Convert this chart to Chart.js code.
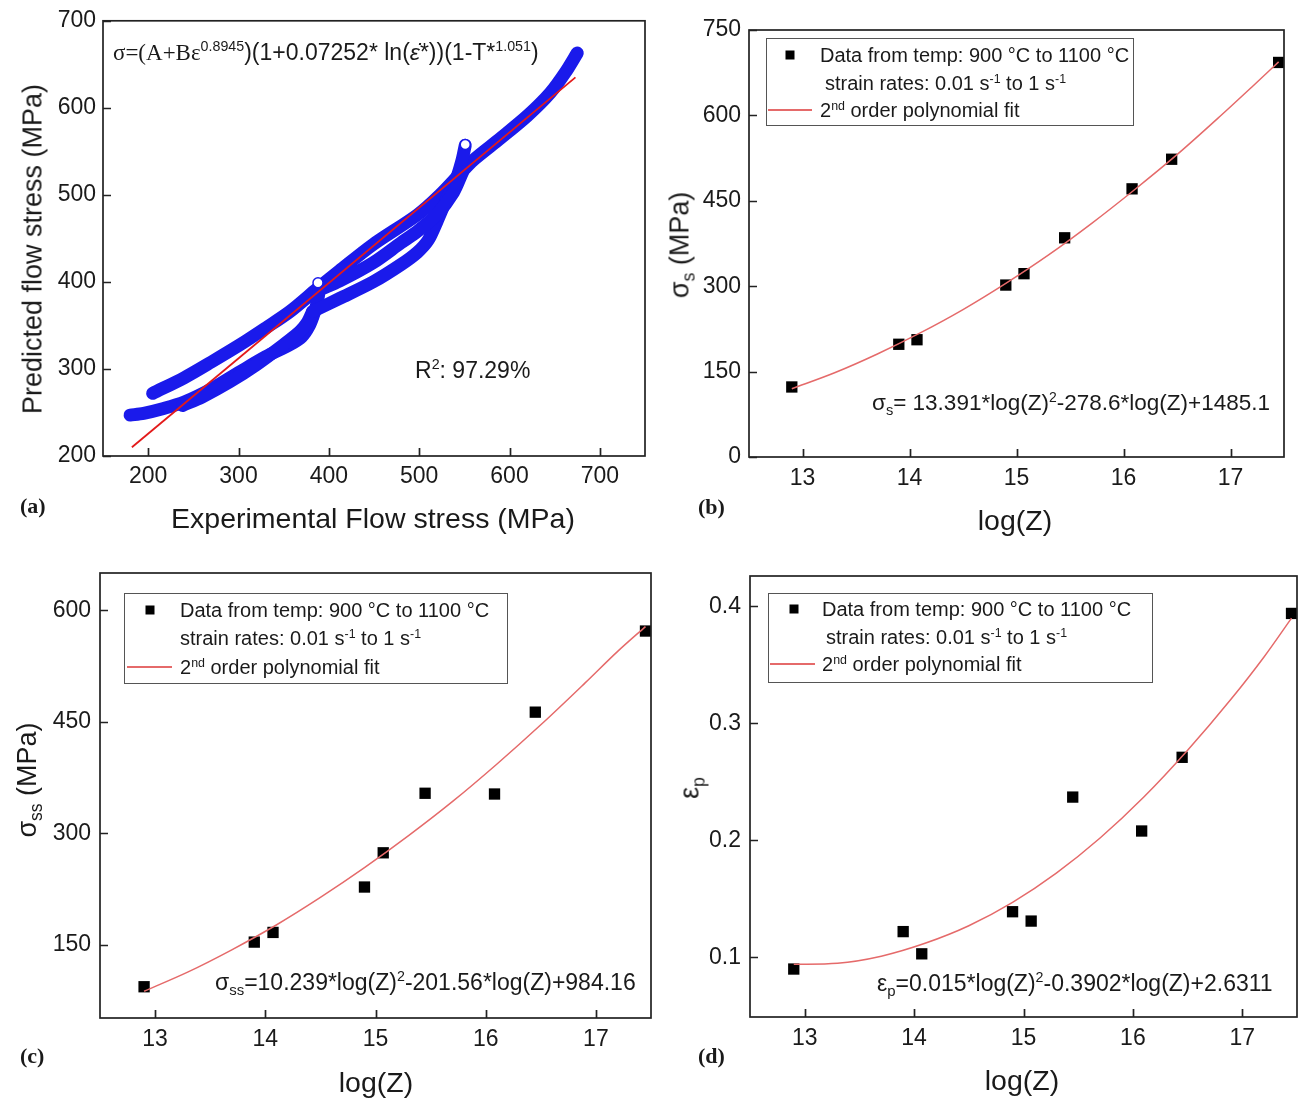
<!DOCTYPE html>
<html><head><meta charset="utf-8">
<script src="https://cdn.jsdelivr.net/npm/chart.js@4.4.1/dist/chart.umd.min.js"></script>
<style>
body{margin:0;background:#fff;width:1298px;height:1101px;position:relative;overflow:hidden;font-family:'Liberation Sans',Arial,sans-serif;color:#1a1a1a}
.cw{position:absolute}
.t{position:absolute;white-space:nowrap;line-height:1}
.serif{font-family:'Liberation Serif','Times New Roman',serif}
.lab{font-family:'Liberation Serif','Times New Roman',serif;font-weight:bold;font-size:22px}
sup{font-size:0.62em;vertical-align:0;position:relative;top:-0.6em}
sub{font-size:0.65em;vertical-align:0;position:relative;top:0.35em}
.box{position:absolute;border:1.5px solid #555;box-sizing:border-box}
.mk{position:absolute;width:9px;height:9px;background:#000;transform:translate(-50%,-50%)}
.rl{position:absolute;height:1.6px;background:#e56a6a}
</style></head><body>
<script>
// ---------- DATA ----------
// Panel (a): predicted vs experimental flow stress bands
const aTicks = [200, 300, 400, 500, 600, 700];
const bandUpper = [[205,272],[240,290],[270,308],[302,328],[330,347],[357,366],[387,392],[412,413],[449,443],[498,477],[523,500],[545,524],[560,540],[590,565],[620,591],[645,617],[662,641],[675,663]];
const bandLowerLeft = [[180,247],[195,249],[215,254],[240,262],[270,277],[302,297],[330,314],[357,328],[370,337],[378,349],[384,365],[388,381],[390,396]];
const bandLowerMid = [[238,258],[260,268],[290,285],[320,305],[350,328],[368,343],[376,353],[382,366]];
const bandLowerRight = [[382,366],[412,381],[449,400],[480,420],[498,434],[510,448],[520,470],[530,494],[540,515],[547,538],[551,557]];
const bandMiddle = [[392,392],[412,401],[449,422],[480,445],[498,458],[520,478],[538,503],[548,526]];
const hollowEnds = [[388,399],[551,558]];
const fitLineA = [[182,210],[673,635]];

// Panels (b)-(d)
const logZ = [12.9, 13.9, 14.07, 14.9, 15.07, 15.45, 16.08, 16.45, 17.45];
const sigmaS = [123, 198, 206, 302, 322, 385, 471, 523, 693];
const sigmaSS = [94, 154, 167, 228, 274, 354, 353, 463, 572];
const epsP = [0.090, 0.122, 0.103, 0.139, 0.131, 0.237, 0.208, 0.271, 0.394];
const fitX = [12.9, 13.3, 13.7, 14.1, 14.5, 14.9, 15.3, 15.7, 16.1, 16.5, 16.9, 17.2, 17.45];
const fitS = [120, 148, 181, 218, 259, 305, 355, 410, 469, 531, 598, 650, 694];
const fitSS = [88, 114, 144, 177, 214, 254, 297, 343, 393, 446, 502, 545, 578];
const fitP = [0.094, 0.095, 0.101, 0.112, 0.127, 0.147, 0.172, 0.202, 0.237, 0.277, 0.321, 0.357, 0.390];
const zTicks = [13, 14, 15, 16, 17];
const bTicks = [0, 150, 300, 450, 600, 750];
const cTicks = [150, 300, 450, 600];
const dTicks = [0.1, 0.2, 0.3, 0.4];

// ---------- HELPERS ----------
Chart.defaults.font.family = "'Liberation Sans', Arial, sans-serif";
Chart.defaults.color = '#1a1a1a';
Chart.defaults.animation = false;

const frameTicks = {
  id: 'frameTicks',
  afterDatasetsDraw(chart) {
    const {ctx, chartArea: ca, scales} = chart;
    ctx.save();
    ctx.strokeStyle = '#222';
    ctx.lineWidth = 1.7;
    ctx.beginPath();
    scales.x.ticks.forEach(t => {
      const p = Math.round(scales.x.getPixelForValue(t.value)) + 0.5;
      ctx.moveTo(p, ca.bottom); ctx.lineTo(p, ca.bottom - 8);
    });
    scales.y.ticks.forEach(t => {
      const p = Math.round(scales.y.getPixelForValue(t.value)) + 0.5;
      ctx.moveTo(ca.left, p); ctx.lineTo(ca.left + 8, p);
    });
    ctx.stroke();
    ctx.strokeRect(ca.left, ca.top, ca.right - ca.left, ca.bottom - ca.top);
    ctx.restore();
  }
};

function pts(xs, ys) { return xs.map((x, i) => ({x, y: ys[i]})); }
function pairs(a) { return a.map(p => ({x: p[0], y: p[1]})); }

function makeChart(o) {
  const wrap = document.createElement('div');
  wrap.className = 'cw';
  wrap.style.left = o.left + 'px'; wrap.style.top = o.top + 'px';
  const cv = document.createElement('canvas');
  cv.width = o.w; cv.height = o.h;
  cv.style.width = o.w + 'px'; cv.style.height = o.h + 'px';
  wrap.appendChild(cv); document.body.appendChild(wrap);
  const axis = (min, max, ticks, pad) => ({
    type: 'linear', min, max,
    grid: {display: false, drawTicks: false},
    border: {display: false},
    afterBuildTicks: s => { s.ticks = ticks.map(v => ({value: v})); },
    ticks: {font: {size: 23}, padding: pad, color: '#1a1a1a', callback: v => String(v), autoSkip: false, maxRotation: 0}
  });
  const xs = axis(o.x[0], o.x[1], o.xt, o.xpad);
  xs.afterFit = s => { s.height = o.h - o.area.bottom; };
  const ys = axis(o.y[0], o.y[1], o.yt, o.ypad);
  ys.afterFit = s => { s.width = o.area.left; };
  return new Chart(cv, {
    type: 'scatter',
    data: {datasets: o.datasets},
    options: {
      responsive: false, events: [],
      layout: {autoPadding: false, padding: {left: 0, top: o.area.top, right: o.w - o.area.right, bottom: 0}},
      scales: {x: xs, y: ys},
      plugins: {legend: {display: false}, tooltip: {enabled: false}}
    },
    plugins: [frameTicks]
  });
}

function txt(html, x, y, opts = {}) {
  const d = document.createElement('div');
  d.className = 't' + (opts.cls ? ' ' + opts.cls : '');
  d.innerHTML = html;
  d.style.left = x + 'px'; d.style.top = y + 'px';
  d.style.fontSize = (opts.size || 20) + 'px';
  let tr = opts.center ? 'translate(-50%,-50%)' : 'translate(0,-50%)';
  if (opts.rot) tr += ' rotate(-90deg)';
  d.style.transform = tr;
  document.body.appendChild(d);
  return d;
}
function el(cls, l, t, w, h) {
  const d = document.createElement('div');
  d.className = cls; d.style.left = l + 'px'; d.style.top = t + 'px';
  if (w != null) d.style.width = w + 'px';
  if (h != null) d.style.height = h + 'px';
  document.body.appendChild(d);
  return d;
}

const BLUE = '#1a1aeb';
const band = (arr) => ({data: pairs(arr), showLine: true, borderColor: BLUE, borderWidth: 13, pointRadius: 0, tension: 0.3, borderCapStyle: 'round', borderJoinStyle: 'round', order: 3});

// ---------- PANEL (a) ----------
makeChart({
  left: 0, top: 0, w: 650, h: 540,
  area: {left: 103, top: 18, right: 645, bottom: 456},
  x: [150, 750], y: [200, 700], xt: aTicks, yt: aTicks, xpad: 7, ypad: 7,
  datasets: [
    {data: pairs(fitLineA), showLine: true, borderColor: '#e31a1a', borderWidth: 1.8, pointRadius: 0, order: 0},
    {data: pairs(hollowEnds), showLine: false, pointRadius: 5, pointStyle: 'circle', backgroundColor: '#fff', borderColor: BLUE, borderWidth: 1.5, order: 1},
    band(bandMiddle), band(bandLowerRight), band(bandLowerMid), band(bandLowerLeft), band(bandUpper)
  ]
});

// ---------- PANELS (b)-(d) ----------
const FIT = '#e56a6a';
const sq = (ys) => ({data: pts(logZ, ys), showLine: false, pointStyle: 'rect', pointRadius: 8, backgroundColor: '#000', borderColor: '#000', borderWidth: 0, order: 1});
const fit = (ys) => ({data: pts(fitX, ys), showLine: true, borderColor: FIT, borderWidth: 1.5, pointRadius: 0, tension: 0.4, cubicInterpolationMode: 'monotone', order: 0});

makeChart({
  left: 650, top: 0, w: 648, h: 540,
  area: {left: 99, top: 30, right: 634, bottom: 457},
  x: [12.5, 17.5], y: [0, 750], xt: zTicks, yt: bTicks, xpad: 8, ypad: 8,
  datasets: [fit(fitS), sq(sigmaS)]
});
makeChart({
  left: 0, top: 540, w: 660, h: 561,
  area: {left: 100, top: 33, right: 651, bottom: 478},
  x: [12.5, 17.5], y: [52, 650], xt: zTicks, yt: cTicks, xpad: 8, ypad: 9,
  datasets: [fit(fitSS), sq(sigmaSS)]
});
makeChart({
  left: 650, top: 540, w: 648, h: 561,
  area: {left: 100, top: 36, right: 647, bottom: 477},
  x: [12.5, 17.5], y: [0.049, 0.426], xt: zTicks, yt: dTicks, xpad: 8, ypad: 9,
  datasets: [fit(fitP), sq(epsP)]
});

// ---------- TEXT OVERLAYS ----------
// (a)
txt('<span class="serif">σ=(A+Bε</span><sup>0.8945</sup>)(1+0.07252* ln(<i>ε̇</i>*))(1-T*<sup>1.051</sup>)', 113, 52, {size: 23});
txt('R<sup>2</sup>: 97.29%', 415, 370, {size: 23});
txt('Predicted flow stress (MPa)', 33, 249, {size: 27, center: true, rot: true});
txt('Experimental Flow stress (MPa)', 373, 518, {size: 28.5, center: true});
txt('(a)', 20, 506, {cls: 'lab', size: 22});

// legends
function legend(bx, by, bw, bh, mx, my, t1x, t2x, y2, lx1, lx2, ly, t3x) {
  el('box', bx, by, bw, bh);
  el('mk', mx, my);
  txt('Data from temp: 900 °C to 1100 °C', t1x, my, {size: 20});
  txt('strain rates: 0.01 s<sup>-1</sup> to 1 s<sup>-1</sup>', t2x, y2, {size: 20});
  el('rl', lx1, ly - 0.8, lx2 - lx1);
  txt('2<sup>nd</sup> order polynomial fit', t3x, ly, {size: 20});
}
// (b)
legend(766, 38, 368, 88, 790, 55, 820, 825, 83, 768, 812, 110, 820);
txt('σ<sub>s</sub>= 13.391*log(Z)<sup>2</sup>-278.6*log(Z)+1485.1', 872, 403, {size: 22.5});
txt('σ<sub>s</sub> (MPa)', 680, 245, {size: 27, center: true, rot: true});
txt('log(Z)', 1015, 520, {size: 28.5, center: true});
txt('(b)', 698, 507, {cls: 'lab', size: 22});
// (c)
legend(124, 593, 384, 91, 150, 610, 180, 180, 638, 127, 172, 667, 180);
txt('σ<sub>ss</sub>=10.239*log(Z)<sup>2</sup>-201.56*log(Z)+984.16', 215, 982, {size: 23});
txt('σ<sub>ss</sub> (MPa)', 27, 780, {size: 27, center: true, rot: true});
txt('log(Z)', 376, 1082, {size: 28.5, center: true});
txt('(c)', 20, 1056, {cls: 'lab', size: 22});
// (d)
legend(768, 593, 385, 90, 794, 609, 822, 826, 637, 770, 815, 664, 822);
txt('ε<sub>p</sub>=0.015*log(Z)<sup>2</sup>-0.3902*log(Z)+2.6311', 877, 983, {size: 23});
txt('ε<sub>p</sub>', 690, 788, {size: 27, center: true, rot: true});
txt('log(Z)', 1022, 1080, {size: 28.5, center: true});
txt('(d)', 698, 1056, {cls: 'lab', size: 22});
</script>
</body></html>
